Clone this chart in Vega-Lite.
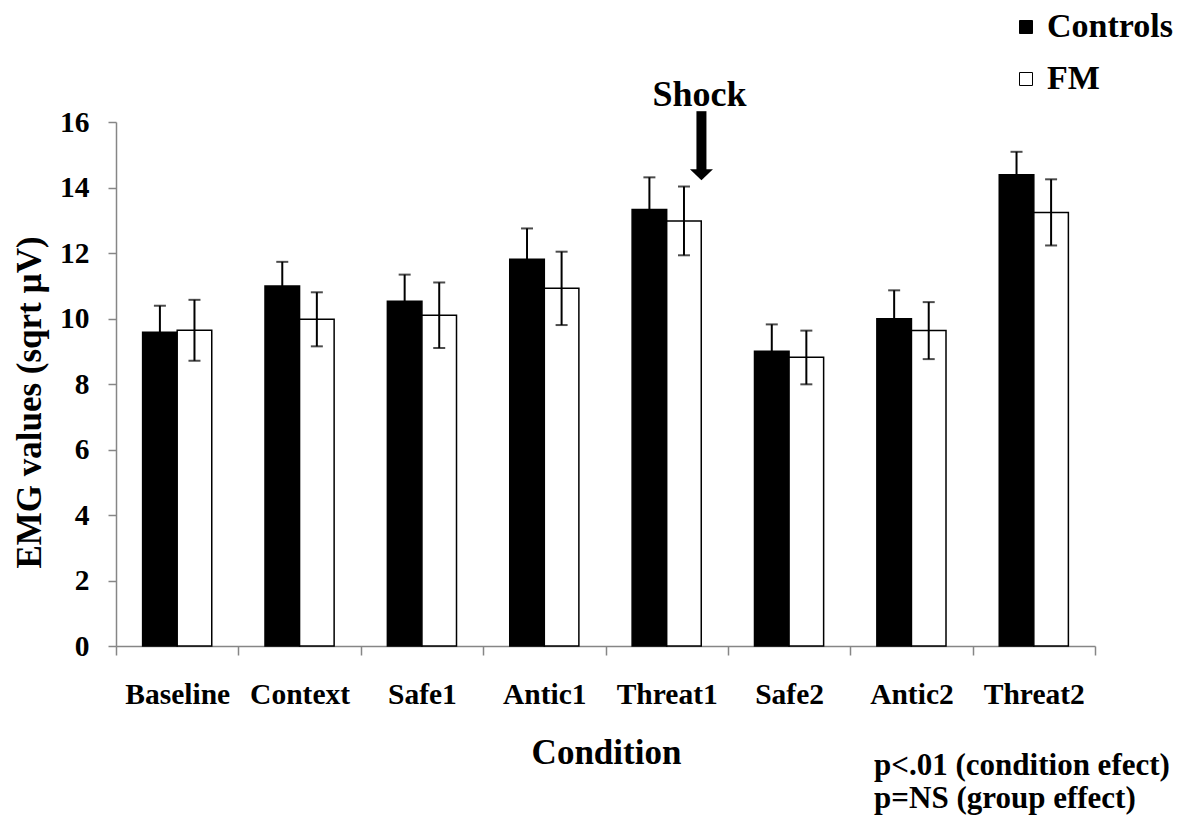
{
  "$schema": "https://vega.github.io/schema/vega-lite/v6.json",
  "width": 979,
  "height": 524,
  "autosize": "none",
  "padding": {"left": 116, "top": 122, "right": 93, "bottom": 175},
  "background": "white",
  "config": {
    "font": "Liberation Serif",
    "view": {"stroke": null}
  },
  "datasets": {
    "main": [
      {"condition": "Baseline", "group": "Controls", "mean": 9.58, "lo": 8.77, "hi": 10.39},
      {"condition": "Baseline", "group": "FM", "mean": 9.64, "lo": 8.71, "hi": 10.57},
      {"condition": "Context", "group": "Controls", "mean": 10.99, "lo": 10.25, "hi": 11.73},
      {"condition": "Context", "group": "FM", "mean": 9.98, "lo": 9.15, "hi": 10.80},
      {"condition": "Safe1", "group": "Controls", "mean": 10.53, "lo": 9.72, "hi": 11.34},
      {"condition": "Safe1", "group": "FM", "mean": 10.10, "lo": 9.10, "hi": 11.10},
      {"condition": "Antic1", "group": "Controls", "mean": 11.81, "lo": 10.87, "hi": 12.75},
      {"condition": "Antic1", "group": "FM", "mean": 10.92, "lo": 9.80, "hi": 12.04},
      {"condition": "Threat1", "group": "Controls", "mean": 13.33, "lo": 12.35, "hi": 14.31},
      {"condition": "Threat1", "group": "FM", "mean": 12.98, "lo": 11.93, "hi": 14.03},
      {"condition": "Safe2", "group": "Controls", "mean": 9.00, "lo": 8.18, "hi": 9.82},
      {"condition": "Safe2", "group": "FM", "mean": 8.82, "lo": 7.99, "hi": 9.63},
      {"condition": "Antic2", "group": "Controls", "mean": 9.99, "lo": 9.12, "hi": 10.86},
      {"condition": "Antic2", "group": "FM", "mean": 9.63, "lo": 8.76, "hi": 10.50},
      {"condition": "Threat2", "group": "Controls", "mean": 14.39, "lo": 13.69, "hi": 15.09},
      {"condition": "Threat2", "group": "FM", "mean": 13.24, "lo": 12.23, "hi": 14.25}
    ],
    "arrow": [
      {"condition": "Threat1", "top": 16.33, "bottom": 14.53, "head": 14.39, "label": "Shock", "labelY": 16.48}
    ],
    "notes": [
      {"condition": "Antic2", "y": -3.94, "text": "p<.01 (condition efect)"},
      {"condition": "Antic2", "y": -4.95, "text": "p=NS  (group effect)"}
    ]
  },
  "layer": [
    {
      "data": {"name": "main"},
      "mark": {"type": "bar", "stroke": "black", "strokeWidth": 1.5},
      "encoding": {
        "x": {
          "field": "condition", "type": "nominal",
          "sort": ["Baseline", "Context", "Safe1", "Antic1", "Threat1", "Safe2", "Antic2", "Threat2"],
          "scale": {"domain": ["Baseline", "Context", "Safe1", "Antic1", "Threat1", "Safe2", "Antic2", "Threat2"], "paddingInner": 0, "paddingOuter": 0},
          "axis": {
            "title": "Condition",
            "titleFont": "Liberation Serif", "titleFontSize": 35, "titleFontWeight": "bold", "titleColor": "black",
            "titleX": 490, "titleY": 117, "titleBaseline": "alphabetic", "titleAlign": "center",
            "labelAngle": 0,
            "labelFont": "Liberation Serif", "labelFontSize": 29.5, "labelFontWeight": "bold", "labelColor": "black",
            "labelBaseline": "alphabetic", "labelPadding": 48,
            "tickBand": "extent", "tickSize": 9, "tickColor": "#868686", "tickWidth": 1.5,
            "domainColor": "#868686", "domainWidth": 1.5,
            "grid": false
          }
        },
        "xOffset": {
          "field": "group", "type": "nominal",
          "scale": {"domain": ["Controls", "FM"], "paddingInner": 0, "paddingOuter": 0.77}
        },
        "y": {
          "field": "mean", "type": "quantitative",
          "scale": {"domain": [0, 16], "nice": false, "zero": true},
          "axis": {
            "values": [0, 2, 4, 6, 8, 10, 12, 14, 16],
            "title": "EMG values (sqrt µV)",
            "titleFont": "Liberation Serif", "titleFontSize": 35, "titleFontWeight": "bold", "titleColor": "black",
            "titleX": -87, "titleY": 280, "titleAngle": 270, "titleAlign": "center", "titleBaseline": "middle",
            "labelFont": "Liberation Serif", "labelFontSize": 29.5, "labelFontWeight": "bold", "labelColor": "black",
            "labelPadding": 19, "labelAlign": "right", "labelBaseline": "middle",
            "tickSize": 8, "tickColor": "#868686", "tickWidth": 1.5,
            "domainColor": "#868686", "domainWidth": 1.5,
            "grid": false
          }
        },
        "fill": {
          "field": "group", "type": "nominal",
          "scale": {"domain": ["Controls", "FM"], "range": ["black", "white"]},
          "legend": {
            "title": null,
            "orient": "none", "legendX": 893, "legendY": -112,
            "padding": 0,
            "symbolType": "square", "symbolSize": 169,
            "symbolStrokeColor": "black", "symbolStrokeWidth": 1,
            "labelFont": "Liberation Serif", "labelFontSize": 34, "labelFontWeight": "bold", "labelColor": "black",
            "labelOffset": 4, "rowPadding": 18
          }
        }
      }
    },
    {
      "data": {"name": "main"},
      "mark": {"type": "rule", "color": "black", "strokeWidth": 2},
      "encoding": {
        "x": {"field": "condition", "type": "nominal"},
        "xOffset": {"field": "group", "type": "nominal"},
        "y": {"field": "lo", "type": "quantitative"},
        "y2": {"field": "hi"}
      }
    },
    {
      "data": {"name": "main"},
      "mark": {"type": "tick", "color": "black", "size": 12, "thickness": 2, "orient": "horizontal"},
      "encoding": {
        "x": {"field": "condition", "type": "nominal"},
        "xOffset": {"field": "group", "type": "nominal"},
        "y": {"field": "hi", "type": "quantitative"}
      }
    },
    {
      "data": {"name": "main"},
      "mark": {"type": "tick", "color": "black", "size": 12, "thickness": 2, "orient": "horizontal"},
      "encoding": {
        "x": {"field": "condition", "type": "nominal"},
        "xOffset": {"field": "group", "type": "nominal"},
        "y": {"field": "lo", "type": "quantitative"}
      }
    },
    {
      "data": {"name": "arrow"},
      "mark": {"type": "rule", "color": "black", "strokeWidth": 10},
      "encoding": {
        "x": {"field": "condition", "type": "nominal", "bandPosition": 0.784},
        "y": {"field": "top", "type": "quantitative"},
        "y2": {"field": "bottom"}
      }
    },
    {
      "data": {"name": "arrow"},
      "mark": {"type": "point", "shape": "M-1,-0.48L1,-0.48L0,0.48Z", "filled": true, "color": "black", "size": 529, "opacity": 1},
      "encoding": {
        "x": {"field": "condition", "type": "nominal", "bandPosition": 0.784},
        "y": {"field": "head", "type": "quantitative"}
      }
    },
    {
      "data": {"name": "arrow"},
      "mark": {"type": "text", "font": "Liberation Serif", "fontSize": 36, "fontWeight": "bold", "color": "black", "align": "center", "baseline": "alphabetic"},
      "encoding": {
        "x": {"field": "condition", "type": "nominal", "bandPosition": 0.768},
        "y": {"field": "labelY", "type": "quantitative"},
        "text": {"field": "label"}
      }
    },
    {
      "data": {"name": "notes"},
      "mark": {"type": "text", "font": "Liberation Serif", "fontSize": 31, "fontWeight": "bold", "color": "black", "align": "left", "baseline": "alphabetic"},
      "encoding": {
        "x": {"field": "condition", "type": "nominal", "bandPosition": 0.195},
        "y": {"field": "y", "type": "quantitative"},
        "text": {"field": "text"}
      }
    }
  ]
}
